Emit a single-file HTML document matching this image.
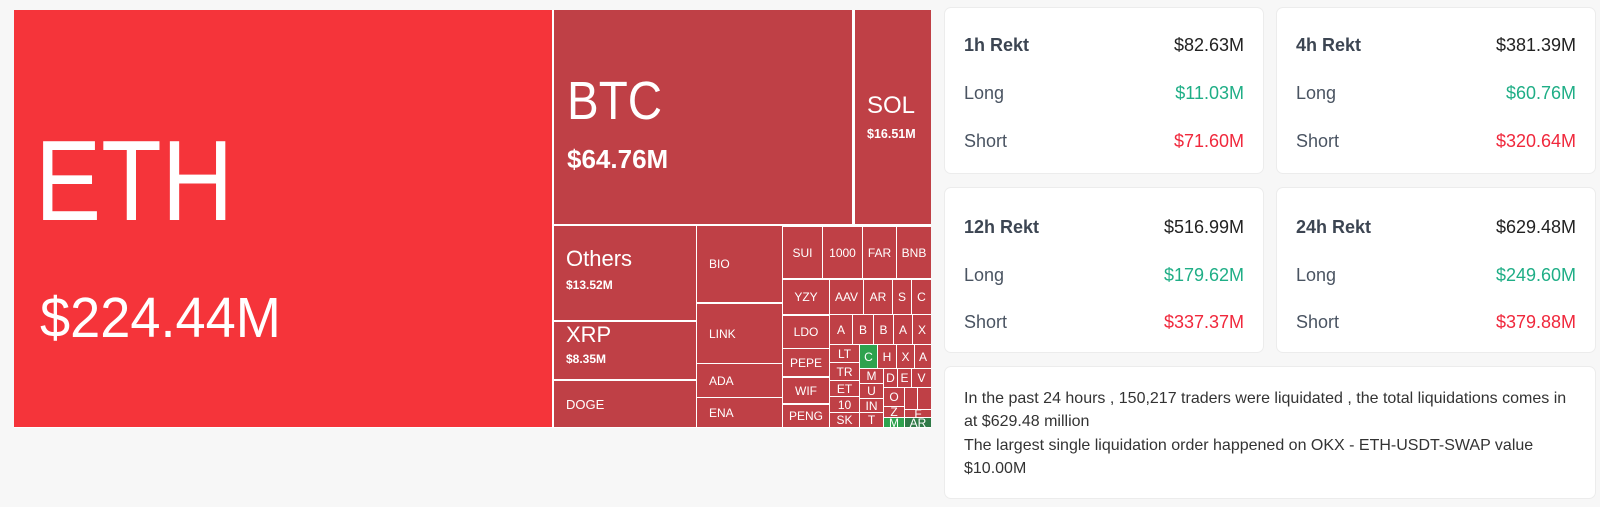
<!DOCTYPE html>
<html><head><meta charset="utf-8"><style>
*{margin:0;padding:0;box-sizing:border-box}
body{width:1600px;height:507px;background:#f7f7f7;position:relative;overflow:hidden;font-family:"Liberation Sans",sans-serif}
.tm{position:absolute;left:14px;top:10px;width:917px;height:418px;background:#fff}
.c{position:absolute;background:#bf4046;color:#fff;overflow:hidden;white-space:nowrap;font-size:12px;display:flex;align-items:center;justify-content:center}
.g{background:#2ea24e}
.dg{background:#2f7a47}
.card{position:absolute;background:#fff;border:1px solid #ececec;border-radius:7px}
.row{position:absolute;left:19px;right:19px;display:flex;justify-content:space-between;font-size:18px;color:#4a5462;line-height:20px}
.row b{font-weight:600;color:#3c4552}
.v{color:#222}.gr{color:#1fae86}.rd{color:#f0283c}
.txt{position:absolute;left:19px;top:20px;font-size:16px;line-height:23.3px;color:#333;white-space:nowrap}
</style></head><body>
<div class="tm"></div>
<div class="c" style="left:14px;top:10px;width:538px;height:417px;background:#f5343a;display:block">
 <div style="position:absolute;left:21px;top:112px;font-size:114px;line-height:120px;transform:scaleX(.87);transform-origin:left">ETH</div>
 <div style="position:absolute;left:26px;top:278px;font-size:57px;line-height:60px;transform:scaleX(.95);transform-origin:left">$224.44M</div>
</div>
<div class="c" style="left:554px;top:10px;width:298px;height:214px;display:block">
 <div style="position:absolute;left:13px;top:61px;font-size:54px;line-height:60px;transform:scaleX(.88);transform-origin:left">BTC</div>
 <div style="position:absolute;left:13px;top:134px;font-size:26px;line-height:30px;font-weight:bold">$64.76M</div>
</div>
<div class="c" style="left:855px;top:10px;width:76px;height:214px;display:block">
 <div style="position:absolute;left:12px;top:82px;font-size:24px">SOL</div>
 <div style="position:absolute;left:12px;top:117px;font-size:12.5px;font-weight:bold">$16.51M</div>
</div>
<div class="c" style="left:554px;top:226px;width:142px;height:94px;display:block">
 <div style="position:absolute;left:12px;top:20px;font-size:22px">Others</div>
 <div style="position:absolute;left:12px;top:52px;font-size:12px;font-weight:bold">$13.52M</div>
</div>
<div class="c" style="left:554px;top:322px;width:142px;height:57px;display:block">
 <div style="position:absolute;left:12px;top:0px;font-size:22px">XRP</div>
 <div style="position:absolute;left:12px;top:30px;font-size:12px;font-weight:bold">$8.35M</div>
</div>
<div class="c" style="left:554px;top:381px;width:142px;height:46px;justify-content:flex-start;padding-left:12px;font-size:13px">DOGE</div>
<div class="c" style="left:697px;top:226px;width:85px;height:76px;justify-content:flex-start;padding-left:12px">BIO</div>
<div class="c" style="left:697px;top:304px;width:85px;height:59px;justify-content:flex-start;padding-left:12px">LINK</div>
<div class="c" style="left:697px;top:364px;width:85px;height:33px;justify-content:flex-start;padding-left:12px">ADA</div>
<div class="c" style="left:697px;top:398px;width:85px;height:29px;justify-content:flex-start;padding-left:12px">ENA</div>
<div class="c" style="left:783px;top:227px;width:39px;height:51px">SUI</div>
<div class="c" style="left:823px;top:227px;width:39px;height:51px">1000</div>
<div class="c" style="left:863px;top:227px;width:33px;height:51px">FAR</div>
<div class="c" style="left:897px;top:227px;width:34px;height:51px">BNB</div>
<div class="c" style="left:783px;top:280px;width:46px;height:34px">YZY</div>
<div class="c" style="left:830px;top:280px;width:33px;height:34px">AAV</div>
<div class="c" style="left:864px;top:280px;width:28px;height:34px">AR</div>
<div class="c" style="left:893px;top:280px;width:18px;height:34px">S</div>
<div class="c" style="left:912px;top:280px;width:19px;height:34px">C</div>
<div class="c" style="left:783px;top:316px;width:46px;height:32px">LDO</div>
<div class="c" style="left:783px;top:349px;width:46px;height:27px">PEPE</div>
<div class="c" style="left:783px;top:378px;width:46px;height:25px">WIF</div>
<div class="c" style="left:783px;top:405px;width:46px;height:22px">PENG</div>
<div class="c" style="left:830px;top:315px;width:22px;height:29px">A</div>
<div class="c" style="left:853px;top:315px;width:20px;height:29px">B</div>
<div class="c" style="left:874px;top:315px;width:19px;height:29px">B</div>
<div class="c" style="left:894px;top:315px;width:18px;height:29px">A</div>
<div class="c" style="left:913px;top:315px;width:18px;height:29px">X</div>
<div class="c" style="left:830px;top:345px;width:29px;height:17px">LT</div>
<div class="c" style="left:830px;top:363px;width:29px;height:17px">TR</div>
<div class="c" style="left:830px;top:381px;width:29px;height:15px">ET</div>
<div class="c" style="left:830px;top:397px;width:29px;height:15px">10</div>
<div class="c" style="left:830px;top:413px;width:29px;height:14px">SK</div>
<div class="c g" style="left:860px;top:345px;width:17px;height:23px">C</div>
<div class="c" style="left:878px;top:345px;width:18px;height:23px">H</div>
<div class="c" style="left:897px;top:345px;width:17px;height:23px">X</div>
<div class="c" style="left:915px;top:345px;width:16px;height:23px">A</div>
<div class="c" style="left:860px;top:369px;width:23px;height:14px">M</div>
<div class="c" style="left:860px;top:384px;width:23px;height:14px">U</div>
<div class="c" style="left:860px;top:399px;width:23px;height:13px">IN</div>
<div class="c" style="left:860px;top:413px;width:23px;height:14px">T</div>
<div class="c" style="left:884px;top:369px;width:13px;height:18px">D</div>
<div class="c" style="left:898px;top:369px;width:13px;height:18px">E</div>
<div class="c" style="left:912px;top:369px;width:19px;height:18px">V</div>
<div class="c" style="left:884px;top:388px;width:20px;height:18px">O</div>
<div class="c" style="left:884px;top:407px;width:20px;height:10px">Z</div>
<div class="c g" style="left:884px;top:418px;width:20px;height:9px">M</div>
<div class="c" style="left:905px;top:388px;width:12px;height:21px"></div>
<div class="c" style="left:918px;top:388px;width:13px;height:21px"></div>
<div class="c" style="left:905px;top:410px;width:26px;height:7px">F</div>
<div class="c dg" style="left:905px;top:418px;width:26px;height:9px">AR</div>

<div class="card" style="left:944px;top:7px;width:320px;height:167px">
 <div class="row" style="top:27px"><b>1h Rekt</b><span class="v">$82.63M</span></div>
 <div class="row" style="top:75px"><span>Long</span><span class="gr">$11.03M</span></div>
 <div class="row" style="top:123px"><span>Short</span><span class="rd">$71.60M</span></div>
</div>
<div class="card" style="left:1276px;top:7px;width:320px;height:167px">
 <div class="row" style="top:27px"><b>4h Rekt</b><span class="v">$381.39M</span></div>
 <div class="row" style="top:75px"><span>Long</span><span class="gr">$60.76M</span></div>
 <div class="row" style="top:123px"><span>Short</span><span class="rd">$320.64M</span></div>
</div>
<div class="card" style="left:944px;top:187px;width:320px;height:166px">
 <div class="row" style="top:29px"><b>12h Rekt</b><span class="v">$516.99M</span></div>
 <div class="row" style="top:77px"><span>Long</span><span class="gr">$179.62M</span></div>
 <div class="row" style="top:124px"><span>Short</span><span class="rd">$337.37M</span></div>
</div>
<div class="card" style="left:1276px;top:187px;width:320px;height:166px">
 <div class="row" style="top:29px"><b>24h Rekt</b><span class="v">$629.48M</span></div>
 <div class="row" style="top:77px"><span>Long</span><span class="gr">$249.60M</span></div>
 <div class="row" style="top:124px"><span>Short</span><span class="rd">$379.88M</span></div>
</div>
<div class="card" style="left:944px;top:366px;width:652px;height:133px">
 <div class="txt">In the past 24 hours , 150,217 traders were liquidated , the total liquidations comes in<br>at $629.48 million<br>The largest single liquidation order happened on OKX - ETH-USDT-SWAP value<br>$10.00M</div>
</div>
</body></html>
